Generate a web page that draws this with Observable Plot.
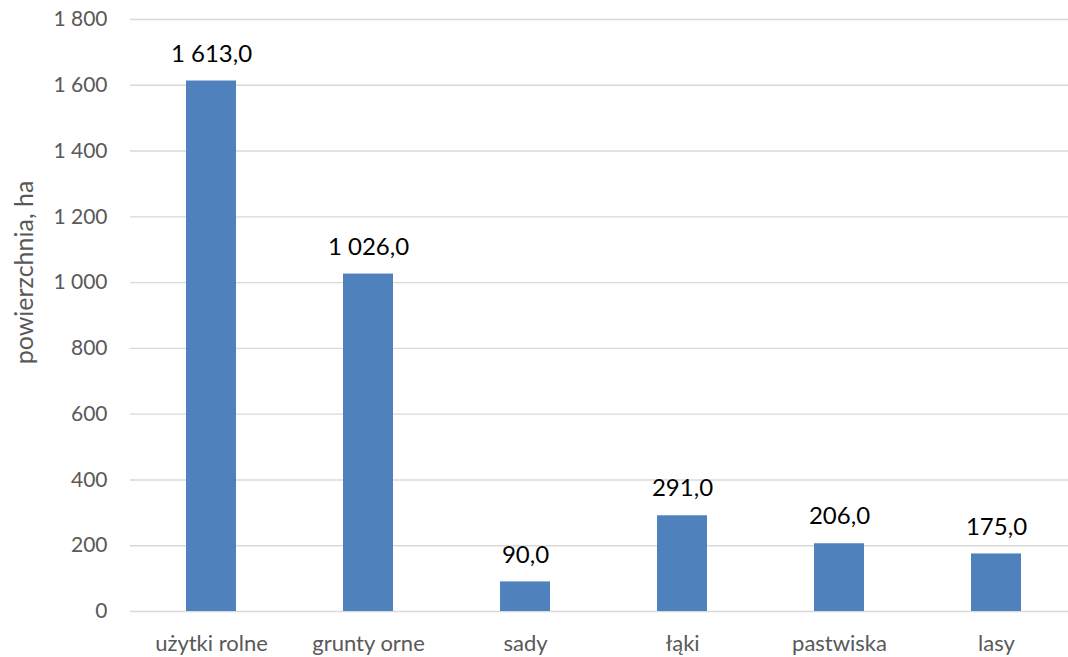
<!DOCTYPE html>
<html>
<head>
<meta charset="utf-8">
<script src="https://cdn.jsdelivr.net/npm/d3@7"></script>
<script src="https://cdn.jsdelivr.net/npm/@observablehq/plot@0.6"></script>
<style>
  html, body { margin: 0; padding: 0; background: #fff; }
  #chart svg { display: block; }
</style>
</head>
<body>
<div id="chart"></div>
<script>
const categories = ["użytki rolne", "grunty orne", "sady", "łąki", "pastwiska", "lasy"];
const values = [1613, 1026, 90, 291, 206, 175];
const yTicks = [0, 200, 400, 600, 800, 1000, 1200, 1400, 1600, 1800];
const yTitle = "powierzchnia, ha";

const data = categories.map((c, i) => ({category: c, value: values[i]}));

function thousands(v) {
  const s = String(Math.trunc(v));
  return s.replace(/\B(?=(\d{3})+(?!\d))/g, " ");
}
const fmtTick = v => thousands(v);
const fmtValue = v => thousands(v) + "," + (Math.round(v * 10) % 10);

const font = "Lato, 'Open Sans', sans-serif";

const chart = Plot.plot({
  width: 1068,
  height: 657,
  marginTop: 19,
  marginBottom: 46,
  marginLeft: 130,
  marginRight: 0,
  style: {fontFamily: font, background: "#fff"},
  x: {domain: categories, range: [130, 1077], paddingInner: 0.68, paddingOuter: 0.34},
  y: {domain: [0, 1800]},
  marks: [
    Plot.ruleY(yTicks, {stroke: "#d9d9d9", strokeWidth: 1.4}),
    Plot.barY(data, {x: "category", y: "value", fill: "#4f81bd"}),
    Plot.text(data, {x: "category", y: "value", text: d => fmtValue(d.value), dy: -27, fontSize: 24, fill: "#000"}),
    Plot.axisY({ticks: yTicks, tickFormat: fmtTick, tickSize: 0, tickPadding: 23, fontSize: 21, fill: "#595959", label: null}),
    Plot.axisX({tickSize: 0, tickPadding: 24, fontSize: 22, fill: "#595959", label: null}),
    Plot.text([yTitle], {frameAnchor: "left", textAnchor: "middle", dx: -106, dy: -43, rotate: -90, fontSize: 25, fill: "#595959"})
  ]
});
document.getElementById("chart").appendChild(chart);
</script>
</body>
</html>
